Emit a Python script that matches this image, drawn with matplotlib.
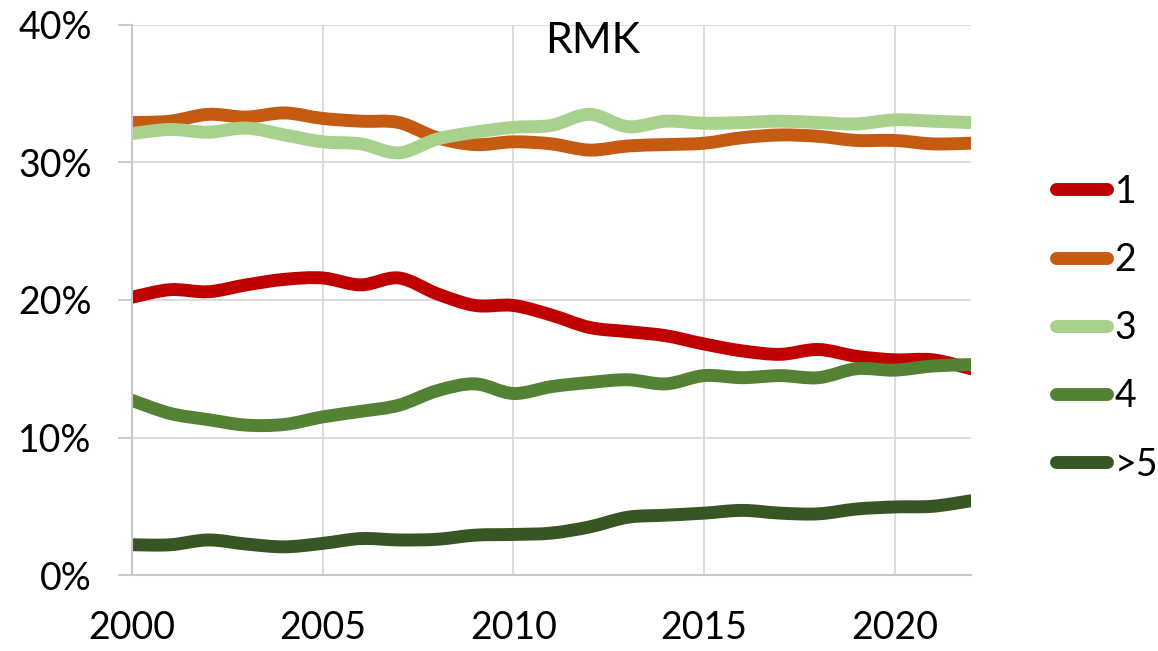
import numpy as np
import matplotlib.pyplot as plt
from matplotlib.path import Path
from matplotlib.patches import PathPatch
from matplotlib.lines import Line2D

years = list(range(2000, 2023))
s1 = [20.2, 20.75, 20.6, 21.1, 21.5, 21.6, 21.1, 21.6, 20.45, 19.6, 19.6, 18.9,
      18.0, 17.7, 17.4, 16.8, 16.3, 16.05, 16.4, 15.9, 15.65, 15.65, 15.0]
s2 = [32.9, 33.0, 33.5, 33.3, 33.6, 33.2, 33.0, 32.9, 31.8, 31.3, 31.5, 31.35,
      30.9, 31.2, 31.3, 31.4, 31.8, 32.0, 31.9, 31.6, 31.6, 31.35, 31.4]
s3 = [32.1, 32.4, 32.2, 32.5, 32.0, 31.5, 31.35, 30.7, 31.7, 32.2, 32.55, 32.7,
      33.5, 32.6, 33.0, 32.85, 32.9, 33.0, 32.9, 32.8, 33.1, 33.0, 32.9]
s4 = [12.7, 11.75, 11.3, 10.9, 10.95, 11.5, 11.9, 12.35, 13.4, 13.9, 13.2, 13.7,
      14.0, 14.2, 13.9, 14.5, 14.35, 14.5, 14.35, 15.0, 14.9, 15.2, 15.3]
s5 = [2.2, 2.2, 2.55, 2.25, 2.05, 2.3, 2.65, 2.55, 2.6, 2.9, 2.95, 3.05,
      3.5, 4.2, 4.35, 4.5, 4.7, 4.5, 4.45, 4.8, 4.95, 5.0, 5.4]
labels = ['1', '2', '3', '4', '>5']
colors = ['#C00000', '#C55A11', '#A9D18E', '#548235', '#375623']

plt.rcParams['font.family'] = ['Lato', 'DejaVu Sans']


def smooth_path(x, y):
    # Bezier segments like Excel's smoothed line
    p = np.column_stack([x, y]).astype(float)
    n = len(p)
    verts = [p[0]]
    codes = [Path.MOVETO]
    for i in range(n - 1):
        p0 = p[i - 1] if i > 0 else p[i]
        p3 = p[i + 2] if i + 2 < n else p[i + 1]
        c1 = p[i] + (p[i + 1] - p0) / 6
        c2 = p[i + 1] - (p3 - p[i]) / 6
        verts += [c1, c2, p[i + 1]]
        codes += [Path.CURVE4] * 3
    return Path(verts, codes)


fig = plt.figure(figsize=(11.58, 6.51), dpi=100)
ax = fig.add_axes([0.114, 0.1167, 0.7245, 0.845])

handles = []
for ys, c, lab in zip([s1, s2, s3, s4, s5], colors, labels):
    patch = PathPatch(smooth_path(years, ys), facecolor='none', edgecolor=c,
                      lw=9.3, capstyle='round', joinstyle='round')
    ax.add_patch(patch)
    handles.append(Line2D([], [], color=c, lw=9.3, solid_capstyle='round', label=lab))

ax.set_xlim(2000, 2022)
ax.set_ylim(0, 40)
ax.set_xticks([2000, 2005, 2010, 2015, 2020])
ax.set_yticks([0, 10, 20, 30, 40])
ax.set_yticklabels(['0%', '10%', '20%', '30%', '40%'])
ax.grid(True, color='#d9d9d9', lw=1.3)
ax.set_axisbelow(True)
for sp in ['top', 'right']:
    ax.spines[sp].set_visible(False)
for sp in ['left', 'bottom']:
    ax.spines[sp].set_color('#c8c8c8')
    ax.spines[sp].set_linewidth(1.5)
ax.tick_params(axis='y', length=10, width=1.3, color='#c8c8c8', labelsize=27, pad=19)
ax.tick_params(axis='x', length=0, labelsize=27, pad=25)

ax.text(0.5495, 0.949, 'RMK', transform=ax.transAxes, ha='center', va='baseline', fontsize=31)

fig.legend(handles=handles, loc='center left', bbox_to_anchor=(0.9123, 0.496),
           frameon=False, fontsize=27, handlelength=1.36, labelspacing=0.86,
           handletextpad=0.19, borderaxespad=0, borderpad=0)

fig.savefig('out.png', dpi=100)
